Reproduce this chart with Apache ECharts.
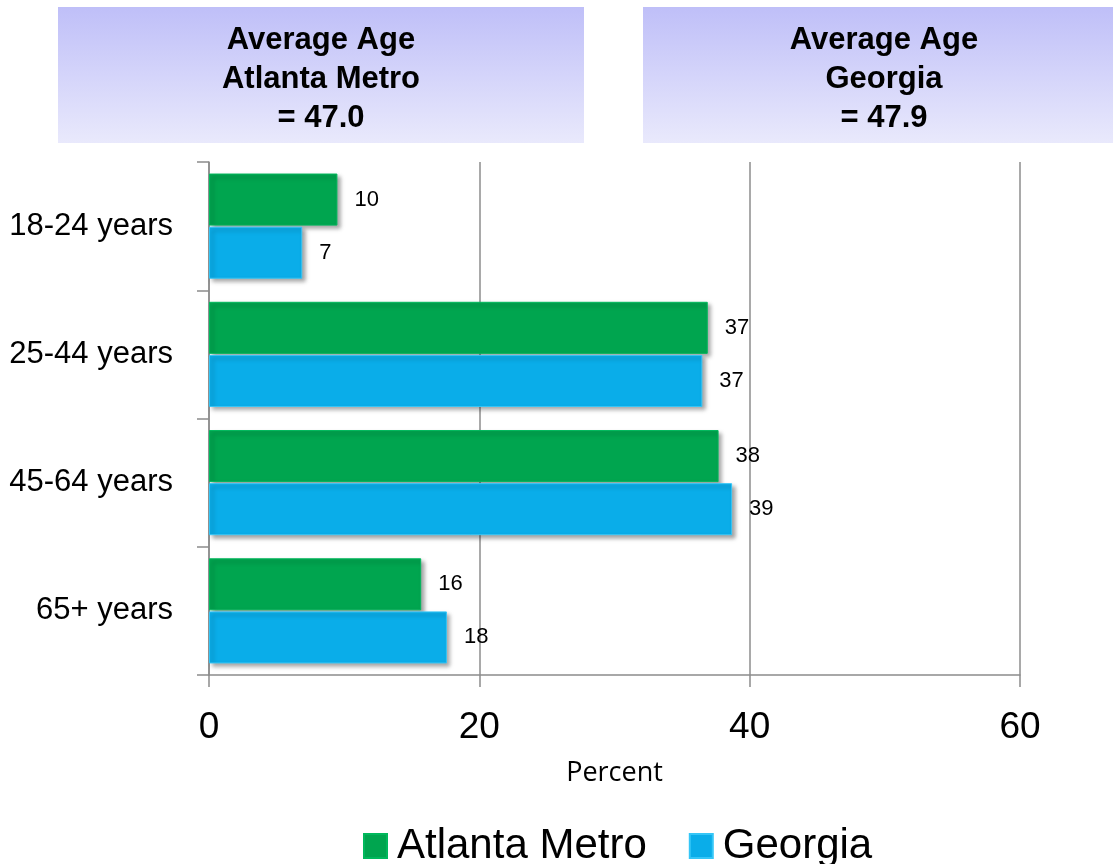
<!DOCTYPE html>
<html>
<head>
<meta charset="utf-8">
<script src="https://cdn.jsdelivr.net/npm/echarts@6/dist/echarts.min.js"></script>
<style>
  html, body { margin: 0; padding: 0; background: #fff; }
  #main { width: 1113px; height: 864px; }
</style>
</head>
<body>
<div id="main"></div>
<script>
// age groups, top to bottom
const categories = ["18-24 years", "25-44 years", "45-64 years", "65+ years"];
// percent of respondents
const atlantaMetro = [9.5, 36.9, 37.7, 15.7];
const georgia = [6.9, 36.5, 38.7, 17.6];
const xTicks = [0, 20, 40, 60];
const seriesNames = ["Atlanta Metro", "Georgia"];
const headerLeft = ["Average Age", "Atlanta Metro", "= 47.0"];
const headerRight = ["Average Age", "Georgia", "= 47.9"];

const axisGray = "#8c8c8c";
const arial = '"Liberation Sans", Arial, sans-serif';

let myChart = echarts.init(document.getElementById("main"));

function headerBox(x, w, cx, lines) {
  return [
    {
      type: "rect",
      shape: { x: x, y: 7, width: w, height: 136 },
      style: {
        fill: new echarts.graphic.LinearGradient(0, 0, 0, 1, [
          { offset: 0, color: "#bfbff8" },
          { offset: 1, color: "#e9e9fc" }
        ])
      },
      z: 0
    },
    {
      type: "text",
      x: cx,
      y: 21,
      style: {
        text: lines.join("\n"),
        font: "bold 31px " + arial,
        lineHeight: 39,
        textAlign: "center",
        textVerticalAlign: "top",
        fill: "#000"
      },
      z: 1
    }
  ];
}

let barLabel = {
  show: true,
  position: "right",
  distance: 17,
  fontSize: 22,
  fontFamily: arial,
  color: "#000",
  formatter: function (p) {
    return Math.round(p.value);
  }
};

let option = {
  animation: false,
  graphic: headerBox(58, 526, 321, headerLeft).concat(headerBox(643, 490, 884, headerRight)),
  grid: {
    left: 209,
    right: 93,
    top: 162,
    bottom: 189,
    outerBoundsMode: "none",
    containLabel: false
  },
  legend: {
    left: 358,
    top: 820,
    itemWidth: 23,
    itemHeight: 24,
    itemGap: 42,
    icon: "rect",
    textStyle: {
      fontSize: 42,
      fontFamily: arial,
      color: "#000",
      padding: [0, 0, 0, 5]
    },
    data: seriesNames
  },
  xAxis: {
    type: "value",
    min: xTicks[0],
    max: xTicks[xTicks.length - 1],
    interval: 20,
    name: "Percent",
    nameLocation: "middle",
    nameGap: 85,
    nameTextStyle: {
      fontSize: 27,
      fontFamily: '"Open Sans", sans-serif',
      color: "#000",
      verticalAlign: "top"
    },
    axisLine: { show: true, lineStyle: { color: axisGray, width: 1.5 } },
    axisTick: { show: true, length: 12, lineStyle: { color: axisGray, width: 1.5 } },
    splitLine: { show: true, lineStyle: { color: axisGray, width: 1.5 } },
    axisLabel: {
      fontSize: 37,
      fontFamily: arial,
      color: "#000",
      margin: 34
    }
  },
  yAxis: {
    type: "category",
    inverse: true,
    data: categories,
    axisLine: { show: true, lineStyle: { color: axisGray, width: 1.5 } },
    axisTick: { show: true, length: 12, lineStyle: { color: axisGray, width: 1.5 } },
    axisLabel: {
      fontSize: 31,
      fontFamily: arial,
      color: "#000",
      margin: 36
    }
  },
  series: [
    {
      name: seriesNames[0],
      type: "bar",
      data: atlantaMetro,
      barCategoryGap: "18%",
      barGap: "2%",
      itemStyle: {
        color: "#00a54f",
        borderColor: "#00b85c",
        borderWidth: 1,
        shadowColor: "rgba(0,0,0,0.35)",
        shadowBlur: 4,
        shadowOffsetX: 3,
        shadowOffsetY: 3
      },
      label: barLabel
    },
    {
      name: seriesNames[1],
      type: "bar",
      data: georgia,
      barCategoryGap: "18%",
      barGap: "2%",
      itemStyle: {
        color: "#0aade9",
        borderColor: "#35c6f7",
        borderWidth: 1,
        shadowColor: "rgba(0,0,0,0.35)",
        shadowBlur: 4,
        shadowOffsetX: 3,
        shadowOffsetY: 3
      },
      label: barLabel
    }
  ]
};

myChart.setOption(option);
</script>
</body>
</html>
